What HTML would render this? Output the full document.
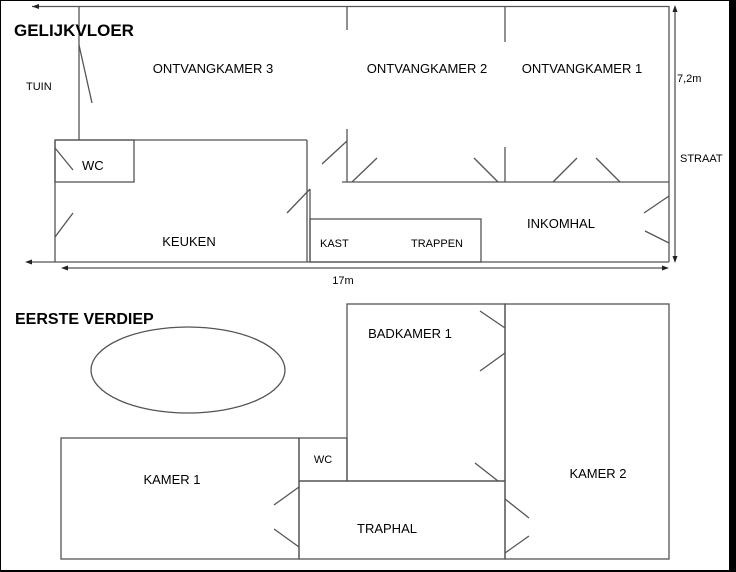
<!DOCTYPE html>
<html><head><style>body{margin:0;background:#000}svg{display:block}</style></head><body>
<svg width="736" height="572" viewBox="0 0 736 572" xmlns="http://www.w3.org/2000/svg" font-family="Liberation Sans, sans-serif">
<rect x="1" y="1" width="728" height="569" fill="#fff"/>
<g stroke="#555" stroke-width="1.3" fill="none">
<line x1="32" y1="6.5" x2="669" y2="6.5"/>
<line x1="79" y1="6" x2="79" y2="140"/>
<line x1="79" y1="45" x2="92" y2="103"/>
<line x1="347" y1="6" x2="347" y2="30"/><line x1="347" y1="129" x2="347" y2="182"/>
<line x1="505" y1="6" x2="505" y2="42"/><line x1="505" y1="147" x2="505" y2="182"/>
<line x1="55" y1="140" x2="307" y2="140"/>
<rect x="55" y="140" width="79" height="42"/>
<line x1="55" y1="140" x2="55" y2="262"/>
<line x1="55" y1="148" x2="73" y2="170"/>
<line x1="55" y1="237" x2="73" y2="213"/>
<line x1="307" y1="140" x2="307" y2="262"/>
<line x1="287" y1="213" x2="310" y2="189"/>
<line x1="310" y1="189" x2="310" y2="262"/>
<rect x="310" y="219" width="171" height="43"/>
<line x1="322" y1="164" x2="347" y2="141"/>
<line x1="342" y1="182" x2="669" y2="182"/>
<line x1="352" y1="182" x2="377" y2="158"/>
<line x1="474" y1="158" x2="498" y2="182"/>
<line x1="553" y1="182" x2="577" y2="158"/>
<line x1="596" y1="158" x2="620" y2="182"/>
<line x1="669" y1="6" x2="669" y2="262"/>
<line x1="644" y1="213" x2="669" y2="196"/>
<line x1="645" y1="231" x2="669" y2="243"/>
<line x1="30" y1="262" x2="669" y2="262"/>
<line x1="66" y1="268" x2="664" y2="268"/>
<line x1="675" y1="11" x2="675" y2="257"/>
<rect x="347" y="304" width="158" height="177"/>
<rect x="505" y="304" width="164" height="255"/>
<rect x="61" y="438" width="238" height="121"/>
<rect x="299" y="438" width="48" height="43"/>
<rect x="299" y="481" width="206" height="78"/>
<ellipse cx="188" cy="370" rx="97" ry="43"/>
<line x1="480" y1="311" x2="505" y2="328"/>
<line x1="480" y1="371" x2="505" y2="353"/>
<line x1="475" y1="463" x2="498" y2="481"/>
<line x1="274" y1="505" x2="299" y2="487"/>
<line x1="274" y1="529" x2="299" y2="547"/>
<line x1="505" y1="499" x2="529" y2="518"/>
<line x1="529" y1="536" x2="505" y2="553"/>
</g>
<g fill="#222">
<polygon points="32,6.5 39,4 39,9"/>
<polygon points="25,262 32,259.5 32,264.5"/>
<polygon points="61,268 68,265.5 68,270.5"/>
<polygon points="669,268 662,265.5 662,270.5"/>
<polygon points="675,5 672.5,12 677.5,12"/>
<polygon points="675,263 672.5,256 677.5,256"/>
</g>
<g fill="#000" font-size="13">
<text x="14" y="36" font-size="17" font-weight="bold">GELIJKVLOER</text>
<text x="213" y="73" text-anchor="middle">ONTVANGKAMER 3</text>
<text x="427" y="73" text-anchor="middle">ONTVANGKAMER 2</text>
<text x="582" y="73" text-anchor="middle">ONTVANGKAMER 1</text>
<text x="26" y="90" font-size="11">TUIN</text>
<text x="82" y="170">WC</text>
<text x="189" y="246" text-anchor="middle">KEUKEN</text>
<text x="320" y="247" font-size="11">KAST</text>
<text x="437" y="247" font-size="11" text-anchor="middle">TRAPPEN</text>
<text x="561" y="228" text-anchor="middle">INKOMHAL</text>
<text x="677" y="82" font-size="11">7,2m</text>
<text x="680" y="162" font-size="11">STRAAT</text>
<text x="343" y="284" font-size="11" text-anchor="middle">17m</text>
<text x="15" y="324" font-size="16" font-weight="bold">EERSTE VERDIEP</text>
<text x="410" y="338" text-anchor="middle">BADKAMER 1</text>
<text x="323" y="463" font-size="11" text-anchor="middle">WC</text>
<text x="172" y="484" text-anchor="middle">KAMER 1</text>
<text x="598" y="478" text-anchor="middle">KAMER 2</text>
<text x="387" y="533" text-anchor="middle">TRAPHAL</text>
</g>
</svg>
</body></html>
